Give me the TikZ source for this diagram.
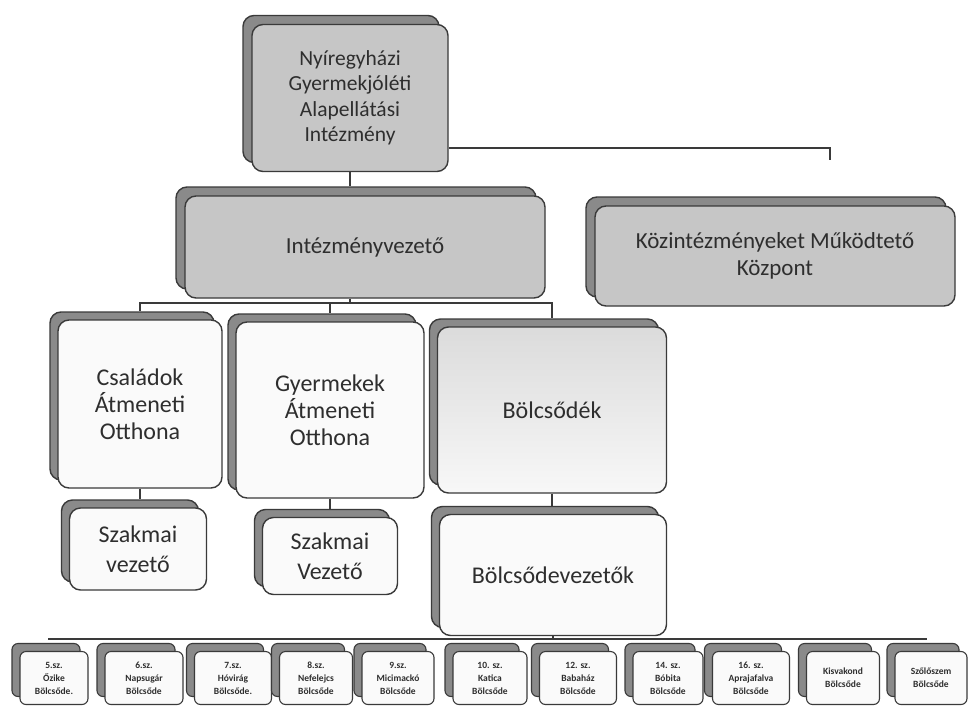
\documentclass[tikz,border=0pt]{standalone}
\usepackage{fontspec}
\setmainfont{Carlito}
\definecolor{ink}{HTML}{2E2E2E}
\definecolor{edge}{HTML}{3A3A3A}
\definecolor{shade}{HTML}{8A8A8A}
\definecolor{greyfill}{HTML}{C6C6C6}
\definecolor{paper}{HTML}{FAFAFA}
\tikzset{
  base/.style={rounded corners=11pt, line width=1.4pt, draw=edge, align=center, text=ink, inner sep=0pt},
  graycard/.style={base, fill=greyfill},
  graycardback/.style={base, fill=shade},
  whitecard/.style={base, fill=paper},
  whitecardback/.style={base, fill=shade},
  bolcscard/.style={base, top color=gray!28, bottom color=gray!6},
  bolcscardback/.style={base, fill=shade},
  smallcard/.style={base, rounded corners=6pt, line width=1.1pt, fill=paper},
  smallcardback/.style={base, rounded corners=6pt, line width=1.1pt, fill=shade},
  conn/.style={draw=edge, line width=1.1pt},
  ftop/.style={font=\fontsize{21.5}{25.5}\selectfont},
  fbig/.style={font=\fontsize{23}{27}\selectfont},
  fmid/.style={font=\fontsize{24}{27}\selectfont},
  fszak/.style={font=\fontsize{24}{30}\selectfont},
  fsmall/.style={font=\fontsize{9.5}{13}\selectfont\bfseries},
}
% \card{name}{cx}{cy}{w}{h}{style}{offset}{fontstyle}{text}
\newcommand\card[9]{%
  \node[#6back, minimum width=#4pt, minimum height=#5pt] (#1s) at (#2-#7,#3-#7) {};
  \node[#6, #8, minimum width=#4pt, minimum height=#5pt] (#1) at (#2,#3) {#9};}
\begin{document}
\begin{tikzpicture}[x=1pt,y=-1pt]
\useasboundingbox[fill=white] (0,0) rectangle (970,713);
\coordinate (kend) at (830,160);
\coordinate (bus1) at (350,303);
\coordinate (b1) at (48,639);
\coordinate (b2) at (927,639);

\card{top}{350}{98}{196}{147}{graycard}{9}{ftop}{Nyíregyházi\\ Gyermekjóléti\\ Alapellátási\\ Intézmény}
\draw[conn] ([yshift=-50pt]top.east) -| (kend);

\card{intv}{365}{247}{360}{102}{graycard}{9}{fbig}{Intézményvezető}
\card{kmk}{775}{256}{360}{100}{graycard}{9}{fbig}{Közintézményeket Működtető\\ Központ}
\draw[conn] (top.south) -- (top.south |- intvs.north);

\card{cat}{140}{404}{164}{168}{whitecard}{8}{fmid}{Családok\\ Átmeneti\\ Otthona}
\card{gat}{330}{410}{188}{176}{whitecard}{8}{fmid}{Gyermekek\\ Átmeneti\\ Otthona}
\card{bol}{552}{410}{229}{166}{bolcscard}{8}{fmid}{Bölcsődék}

\draw[conn] (intv.south -| bus1) -- (bus1);
\draw[conn] (bus1) -| (cat.north |- cats.north);
\draw[conn] (bus1) -| (gat.north |- gats.north);
\draw[conn] (bus1) -| (bol.north |- bols.north);

\card{sz1}{138}{549}{137}{82}{whitecard}{8}{fszak}{Szakmai\\ vezető}
\card{sz2}{330}{556}{135}{77}{whitecard}{8}{fszak}{Szakmai\\ Vezető}
\card{bvez}{553}{575}{227}{121}{whitecard}{8}{fmid}{Bölcsődevezetők}

\draw[conn] (cat.south) -- (cat.south |- sz1s.north);
\draw[conn] (gat.south) -- (gat.south |- sz2s.north);
\draw[conn] (bol.south) -- (bol.south |- bvezs.north);

\draw[conn] (b1) -- (b2);
\draw[conn] (bvez.south) -- (bvez.south |- b1);

\card{n1}{54}{678}{68}{53}{smallcard}{8}{fsmall}{5.sz.\\ Őzike\\ Bölcsőde.}
\card{n2}{144}{678}{78}{53}{smallcard}{8}{fsmall}{6.sz.\\ Napsugár\\ Bölcsőde}
\card{n3}{233}{678}{77}{53}{smallcard}{8}{fsmall}{7.sz.\\ Hóvirág\\ Bölcsőde.}
\card{n4}{316}{678}{73}{53}{smallcard}{8}{fsmall}{8.sz.\\ Nefelejcs\\ Bölcsőde}
\card{n5}{398}{678}{72}{53}{smallcard}{8}{fsmall}{9.sz.\\ Micimackó\\ Bölcsőde}
\card{n6}{490}{678}{74}{53}{smallcard}{8}{fsmall}{10. sz.\\ Katica\\ Bölcsőde}
\card{n7}{578}{678}{77}{53}{smallcard}{8}{fsmall}{12. sz.\\ Babaház\\ Bölcsőde}
\card{n8}{668}{678}{70}{53}{smallcard}{8}{fsmall}{14. sz.\\ Bóbita\\ Bölcsőde}
\card{n9}{751}{678}{77}{53}{smallcard}{8}{fsmall}{16. sz.\\ Aprajafalva\\ Bölcsőde}
\card{n10}{843}{678}{73}{53}{smallcard}{8}{fsmall}{Kisvakond\\ Bölcsőde}
\card{n11}{931}{678}{72}{53}{smallcard}{8}{fsmall}{Szőlőszem\\ Bölcsőde}
\end{tikzpicture}
\end{document}
